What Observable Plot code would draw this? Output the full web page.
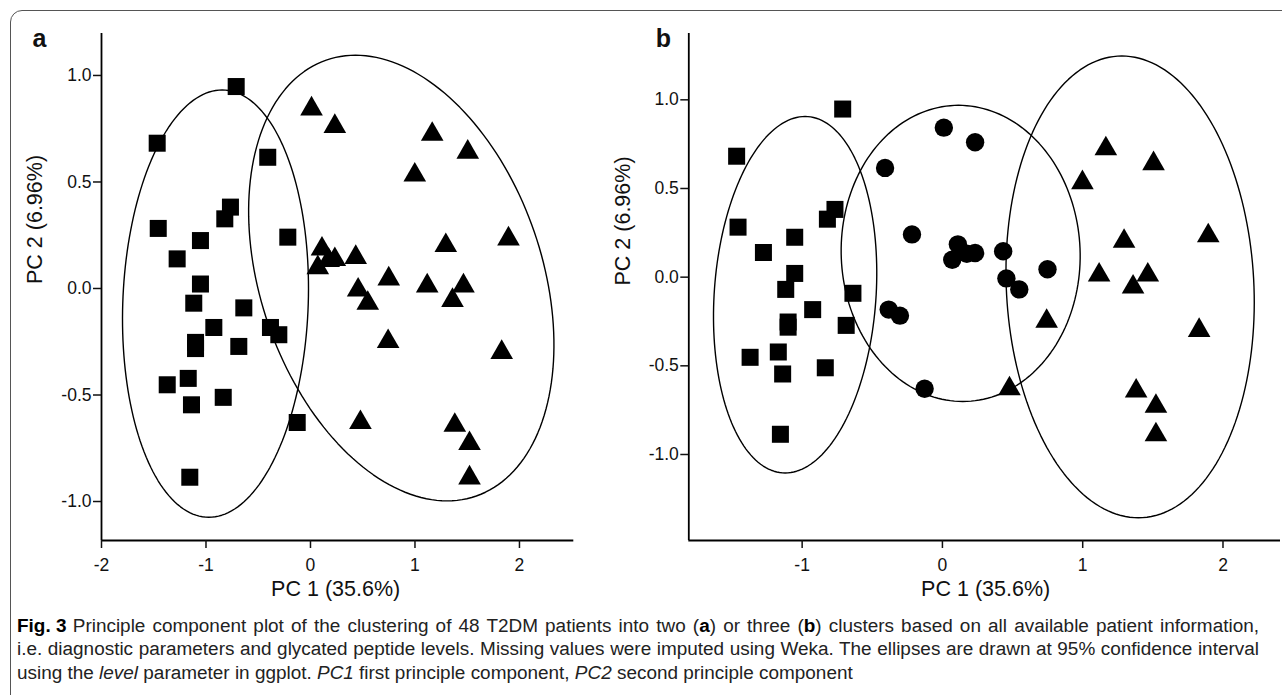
<!DOCTYPE html>
<html><head><meta charset="utf-8">
<script src="https://cdn.jsdelivr.net/npm/d3@7"></script>
<script src="https://cdn.jsdelivr.net/npm/@observablehq/plot@0.6"></script>
<style>
html,body{margin:0;padding:0;background:#fff;overflow:hidden;width:1282px;height:695px;}
#frame{position:absolute;left:10px;top:10px;width:1300px;height:740px;border:1.5px solid #555;border-radius:12px;}
#pa{position:absolute;left:0;top:0;}
#pb{position:absolute;left:600px;top:0;}
#cap{position:absolute;left:17px;top:615px;font-family:'Liberation Sans',Arial,sans-serif;font-size:18px;color:#222;transform-origin:0 0;}
#cap .ln{white-space:nowrap;height:23.3px;line-height:23.3px;}
#cap .just{text-align:justify;text-align-last:justify;}
#cap b{color:#000;}
#cap .fig{display:inline-block;font-weight:bold;color:#000;margin-right:6px;}
</style></head><body>
<div id="frame"></div>
<div id="pa"></div><div id="pb"></div>
<div id="cap"></div>
<script>
// ---- data: PCA scores of 48 patients ----
const pc1 = [-1.467,-0.711,-0.409,-1.457,-0.766,-0.820,-1.053,-1.276,-0.217,-1.053,-1.117,-0.638,-0.925,-0.383,-0.303,-1.100,-1.100,-0.686,-1.371,-1.170,-1.139,-0.835,-0.127,-1.155,
             0.010,0.233,1.165,1.505,0.998,1.895,1.295,0.110,0.174,0.233,0.433,0.070,0.749,1.117,1.464,0.456,0.548,1.359,0.743,1.830,0.478,1.381,1.522,1.522];
const pc2 = [0.682,0.948,0.616,0.282,0.382,0.327,0.225,0.139,0.241,0.021,-0.069,-0.091,-0.183,-0.183,-0.217,-0.253,-0.282,-0.272,-0.452,-0.422,-0.546,-0.511,-0.629,-0.886,
             0.843,0.761,0.724,0.640,0.533,0.233,0.202,0.185,0.132,0.136,0.146,0.098,0.045,0.012,0.012,-0.007,-0.069,-0.056,-0.249,-0.300,-0.629,-0.642,-0.728,-0.889];
// two-cluster solution (panel a): 1 = square, 2 = triangle
const clusterA = [1,1,1,1,1,1,1,1,1,1,1,1,1,1,1,1,1,1,1,1,1,1,1,1,
                  2,2,2,2,2,2,2,2,2,2,2,2,2,2,2,2,2,2,2,2,2,2,2,2];
// three-cluster solution (panel b): 1 = square, 2 = circle, 3 = triangle
const clusterB = [1,1,2,1,1,1,1,1,2,1,1,1,1,2,2,1,1,1,1,1,1,1,2,1,
                  2,2,3,3,3,3,3,2,2,2,2,2,2,3,3,2,2,3,3,3,3,3,3,3];
const symbolsA = ["square","triangle"];
const symbolsB = ["square","circle","triangle"];
// 95% ellipses (center, half-width, half-height, x-offset of top point)
const ellA_cx = [-0.909, 0.869], ellA_cy = [-0.071, 0.049], ellA_rx = [0.89, 1.461], ellA_ry = [1.003, 1.046], ellA_top = [0.064, -0.438];
const ellB_cx = [-1.050, 0.130, 1.338], ellB_cy = [-0.099, 0.134, -0.055], ellB_rx = [0.582, 0.852, 0.885], ellB_ry = [1.005, 0.835, 1.302], ellB_top = [0.071, -0.015, -0.059];
const xTicksA = [-2,-1,0,1,2];
const xTicksB = [-1,0,1,2];
const yTicks = [-1,-0.5,0,0.5,1];
const xTitle = "PC 1 (35.6%)";
const yTitle = "PC 2 (6.96%)";

const symR = {square: 9.6, circle: 9.2, triangle: 8.4};

function ellipsePts(cx, cy, rx, ry, top) {
  const out = [];
  cx.forEach((c, k) => {
    const m = Math.sqrt(rx[k]*rx[k] - top[k]*top[k]);
    for (let deg = 0; deg <= 360; deg += 2) {
      const t = deg * Math.PI / 180;
      out.push({k, x: c + top[k]*Math.sin(t) + m*Math.cos(t), y: cy[k] + ry[k]*Math.sin(t)});
    }
  });
  return out;
}

function panel({clusters, symbols, ell, xDomain, yDomain, width, marginLeft, marginRight, xTicks, letter, letterDx, xTitleDx, yTitleDx, yTitleDy}) {
  const data = pc1.map((x, i) => ({x, y: pc2[i], s: symbols[clusters[i]-1]}));
  const dotMarks = symbols.map(s => Plot.dot(data.filter(d => d.s === s), {x: "x", y: "y", symbol: s, r: symR[s], fill: "black", stroke: "none"}));
  return Plot.plot({
    width, height: 610, marginLeft, marginRight, marginTop: 33, marginBottom: 70,
    x: {domain: xDomain}, y: {domain: yDomain},
    style: {fontFamily: "'Liberation Sans', Arial, sans-serif", fontSize: "17.5px", color: "#111", background: "transparent", overflow: "visible"},
    marks: [
      Plot.line(ell, {x: "x", y: "y", z: "k", stroke: "black", strokeWidth: 1.4}),
      ...dotMarks,
      Plot.ruleX([xDomain[0]], {stroke: "black", strokeWidth: 1.8}),
      Plot.ruleY([yDomain[0]], {stroke: "black", strokeWidth: 1.8}),
      Plot.axisX({ticks: xTicks, tickSize: 8, tickPadding: 10, tickFormat: d => String(d), label: null, strokeWidth: 1.5}),
      Plot.axisY({ticks: yTicks, tickSize: 8, tickPadding: 2, tickFormat: d => d.toFixed(1), label: null, strokeWidth: 1.5}),
      Plot.text([xTitle], {frameAnchor: "bottom", dy: 55, dx: xTitleDx, fontSize: 21.5}),
      Plot.text([yTitle], {frameAnchor: "left", rotate: -90, dx: yTitleDx, dy: yTitleDy, fontSize: 21.5}),
      Plot.text([letter], {frameAnchor: "top-left", textAnchor: "start", lineAnchor: "bottom", dx: letterDx, dy: 13, fontWeight: "bold", fontSize: 25})
    ]
  });
}

document.getElementById("pa").append(panel({
  clusters: clusterA, symbols: symbolsA,
  ell: ellipsePts(ellA_cx, ellA_cy, ellA_rx, ellA_ry, ellA_top),
  xDomain: [-2, 2.52], yDomain: [-1.183, 1.197],
  width: 600, marginLeft: 101, marginRight: 26.7, xTicks: xTicksA,
  letter: "a", letterDx: -69, xTitleDx: -2, yTitleDx: -66, yTitleDy: -3
}));
document.getElementById("pb").append(panel({
  clusters: clusterB, symbols: symbolsB,
  ell: ellipsePts(ellB_cx, ellB_cy, ellB_rx, ellB_ry, ellB_top),
  xDomain: [-1.808, 2.41], yDomain: [-1.485, 1.374],
  width: 682, marginLeft: 88.3, marginRight: 2, xTicks: xTicksB,
  letter: "b", letterDx: -33, xTitleDx: 1, yTitleDx: -65.3, yTitleDy: -1.5
}));

// ---- caption: slightly condensed glyphs, lines 1–2 justified to the panel width ----
const capHTML = [
  "<span class='fig'>Fig. 3</span>Principle component plot of the clustering of 48 T2DM patients into two (<b>a</b>) or three (<b>b</b>) clusters based on all available patient information,",
  "i.e. diagnostic parameters and glycated peptide levels. Missing values were imputed using Weka. The ellipses are drawn at 95% confidence interval",
  "using the <i>level</i> parameter in ggplot. <i>PC1</i> first principle component, <i>PC2</i> second principle component"
];
const capEl = document.getElementById("cap");
const targetW = 1242;
const probe = document.createElement("span");
probe.style.whiteSpace = "nowrap";
capEl.appendChild(probe);
const widths = capHTML.map(h => { probe.innerHTML = h; return probe.getBoundingClientRect().width; });
capEl.removeChild(probe);
const s = (targetW - 6) / Math.max(widths[0], widths[1]);
capEl.style.transform = `scaleX(${s.toFixed(4)})`;
capHTML.forEach((h, i) => {
  const d = document.createElement("div");
  d.className = "ln" + (i < 2 ? " just" : "");
  d.style.width = (targetW / s).toFixed(1) + "px";
  d.innerHTML = h;
  capEl.appendChild(d);
});
</script>
</body></html>
